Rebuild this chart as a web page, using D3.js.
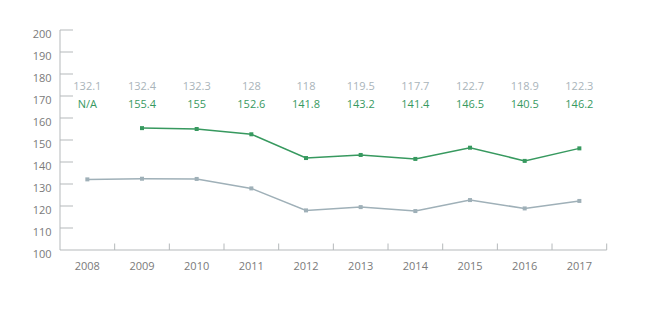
<!DOCTYPE html>
<html><head><meta charset="utf-8">
<script src="https://cdn.jsdelivr.net/npm/d3@7"></script>
<style>body{margin:0;background:#fff}svg{display:block;font-family:"Open Sans",sans-serif}</style>
</head><body><svg id="c" width="650" height="325"></svg>
<script>
const years = ["2008","2009","2010","2011","2012","2013","2014","2015","2016","2017"];
const grayValues = [132.1,132.4,132.3,128,118,119.5,117.7,122.7,118.9,122.3];
const greenValues = [null,155.4,155,152.6,141.8,143.2,141.4,146.5,140.5,146.2];
const greenLabels = ["N/A","155.4","155","152.6","141.8","143.2","141.4","146.5","140.5","146.2"];
const yTicks = [100,110,120,130,140,150,160,170,180,190,200];

const svg = d3.select("#c");
const x = d3.scaleBand().domain(years).range([60, 606.7]);
const y = d3.scaleLinear().domain([100, 200]).range([250, 30]);
const grayC = "#9fb0b8", greenC = "#37995f", axisC = "#b5b9bb", textC = "#7a7a7a";

// y axis
svg.append("line").attr("x1",60).attr("x2",60).attr("y1",y(200)).attr("y2",y(100)).attr("stroke",axisC);
const yt = svg.append("g");
yTicks.forEach(t=>{
  if(t>100) yt.append("line").attr("x1",60).attr("x2",73).attr("y1",y(t)).attr("y2",y(t)).attr("stroke",axisC);
  yt.append("text").attr("x",51.5).attr("y",y(t)+7.5).attr("text-anchor","end").attr("font-size",11).attr("fill",textC).text(t);
});
// x axis
svg.append("line").attr("x1",60).attr("x2",606.7).attr("y1",250).attr("y2",250).attr("stroke",axisC);
years.forEach((yr,i)=>{
  if(i>0) svg.append("line").attr("x1",x(yr)).attr("x2",x(yr)).attr("y1",250).attr("y2",243.5).attr("stroke",axisC);
  svg.append("text").attr("x",x(yr)+x.bandwidth()/2).attr("y",270).attr("text-anchor","middle").attr("font-size",11).attr("fill",textC).text(yr);
});
svg.append("line").attr("x1",606.7).attr("x2",606.7).attr("y1",250).attr("y2",243.5).attr("stroke",axisC);

const cx = d => x(d) + x.bandwidth()/2;
function series(vals, color){
  const pts = years.map((yr,i)=>[yr,vals[i]]).filter(p=>p[1]!=null);
  svg.append("path").datum(pts).attr("fill","none").attr("stroke",color).attr("stroke-width",1.5)
    .attr("d", d3.line().x(p=>cx(p[0])).y(p=>y(p[1])));
  svg.selectAll(null).data(pts).enter().append("rect")
    .attr("x",p=>cx(p[0])-2).attr("y",p=>y(p[1])-2).attr("width",4).attr("height",4).attr("fill",color);
}
series(grayValues, grayC);
series(greenValues, greenC);

// value labels
years.forEach((yr,i)=>{
  svg.append("text").attr("x",cx(yr)).attr("y",90).attr("text-anchor","middle").attr("font-size",11).attr("fill","#a9b4ba").text(grayValues[i]);
  svg.append("text").attr("x",cx(yr)).attr("y",108).attr("text-anchor","middle").attr("font-size",11).attr("fill",greenC).text(greenLabels[i]);
});
</script></body></html>
